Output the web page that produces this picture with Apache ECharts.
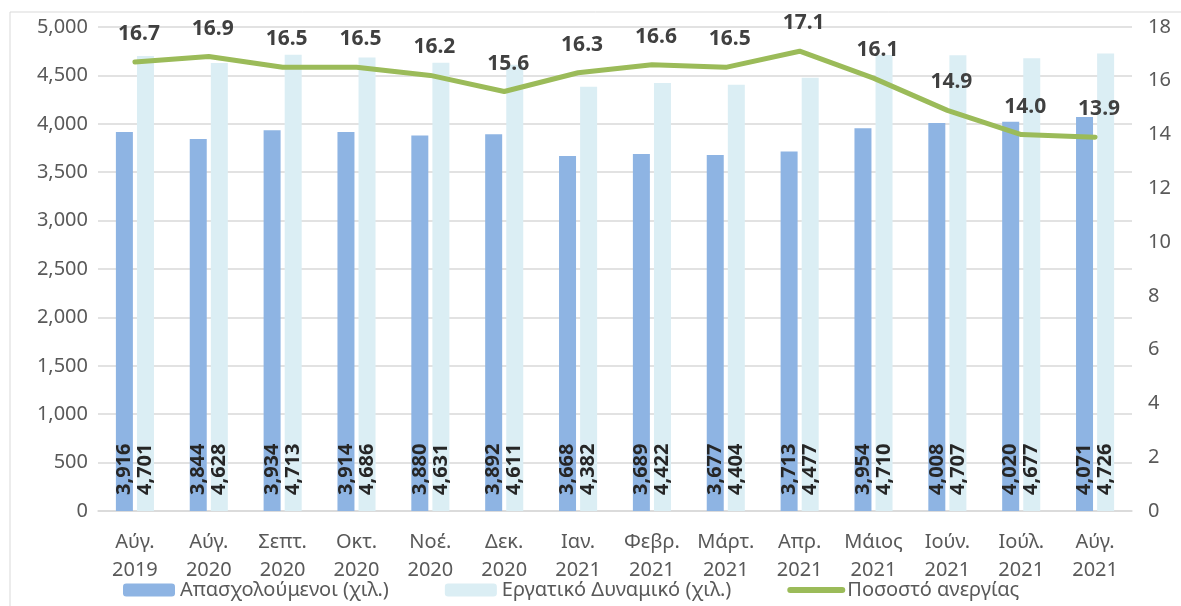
<!DOCTYPE html>
<html>
<head>
<meta charset="utf-8">
<script src="https://cdn.jsdelivr.net/npm/echarts@6/dist/echarts.min.js"></script>
<style>
  html, body { margin: 0; padding: 0; background: #fff; }
  #chart { width: 1181px; height: 606px; }
</style>
</head>
<body>
<div id="chart"></div>
<script>
// categories (month + year)
const months = ['Αύγ.\n2019', 'Αύγ.\n2020', 'Σεπτ.\n2020', 'Οκτ.\n2020', 'Νοέ.\n2020', 'Δεκ.\n2020', 'Ιαν.\n2021',
    'Φεβρ.\n2021', 'Μάρτ.\n2021', 'Απρ.\n2021', 'Μάιος\n2021', 'Ιούν.\n2021', 'Ιούλ.\n2021', 'Αύγ.\n2021'];

// series values
const employed = [3916, 3844, 3934, 3914, 3880, 3892, 3668, 3689, 3677, 3713, 3954, 4008, 4020, 4071];
const labourForce = [4701, 4628, 4713, 4686, 4631, 4611, 4382, 4422, 4404, 4477, 4710, 4707, 4677, 4726];
const unemploymentRate = [16.7, 16.9, 16.5, 16.5, 16.2, 15.6, 16.3, 16.6, 16.5, 17.1, 16.1, 14.9, 14.0, 13.9];

const seriesNames = ['Απασχολούμενοι (χιλ.)', 'Εργατικό Δυναμικό (χιλ.)', 'Ποσοστό ανεργίας'];

const fontFamily = '"Noto Sans", "DejaVu Sans", sans-serif';
const grey = '#595959';
const green = '#9bbb59';

const barLabel = {
    show: true,
    position: 'insideBottom',
    rotate: 90,
    align: 'left',
    verticalAlign: 'middle',
    distance: 16,
    fontSize: 20,
    fontWeight: 'bold',
    color: '#262626',
    fontFamily,
    formatter: p => p.value.toLocaleString('en-US')
};

const myEchart = echarts.init(document.getElementById('chart'));

myEchart.setOption({
    animation: false,
    textStyle: { fontFamily },
    graphic: [
        { type: 'line', shape: { x1: 10, y1: 12, x2: 1181, y2: 12 }, style: { stroke: '#d9d9d9', lineWidth: 1 } },
        { type: 'line', shape: { x1: 10, y1: 12, x2: 10, y2: 606 }, style: { stroke: '#d9d9d9', lineWidth: 1 } }
    ],
    grid: { left: 98, right: 49, top: 27, bottom: 95 },
    legend: {
        data: [
            seriesNames[0],
            seriesNames[1],
            { name: seriesNames[2], itemStyle: { opacity: 0 }, lineStyle: { width: 6, cap: 'round' } }
        ],
        left: 118,
        top: 575,
        itemWidth: 52,
        itemHeight: 13,
        itemGap: 56,
        textStyle: { fontSize: 20, color: grey, fontFamily }
    },
    xAxis: {
        type: 'category',
        data: months,
        axisTick: { show: false },
        axisLine: { lineStyle: { color: '#d9d9d9', width: 1.5 } },
        axisLabel: { color: grey, fontSize: 20, lineHeight: 28, margin: 17, interval: 0, fontFamily }
    },
    yAxis: [
        {
            type: 'value',
            min: 0,
            max: 5000,
            interval: 500,
            axisLine: { show: false },
            axisTick: { show: false },
            splitLine: { lineStyle: { color: '#d9d9d9', width: 1.5 } },
            axisLabel: {
                color: grey, fontSize: 20, margin: 10, fontFamily,
                formatter: v => v.toLocaleString('en-US')
            }
        },
        {
            type: 'value',
            min: 0,
            max: 18,
            interval: 2,
            axisLine: { show: false },
            axisTick: { show: false },
            splitLine: { show: false },
            axisLabel: { color: grey, fontSize: 20, margin: 16, fontFamily }
        }
    ],
    series: [
        {
            name: seriesNames[0],
            type: 'bar',
            data: employed,
            barWidth: 17,
            barGap: '24%',
            itemStyle: { color: '#8eb4e3' },
            label: barLabel
        },
        {
            name: seriesNames[1],
            type: 'bar',
            data: labourForce,
            barWidth: 17,
            itemStyle: { color: '#dbeef4' },
            label: barLabel
        },
        {
            name: seriesNames[2],
            type: 'line',
            yAxisIndex: 1,
            data: unemploymentRate,
            symbol: 'circle',
            symbolSize: 1,
            lineStyle: { color: green, width: 5, cap: 'round', join: 'round' },
            itemStyle: { color: green },
            z: 5,
            label: {
                show: true,
                position: 'top',
                distance: 17,
                offset: [4, 0],
                fontSize: 21,
                fontWeight: 'bold',
                color: '#404040',
                fontFamily,
                formatter: p => p.value.toFixed(1)
            }
        }
    ]
});
</script>
</body>
</html>
